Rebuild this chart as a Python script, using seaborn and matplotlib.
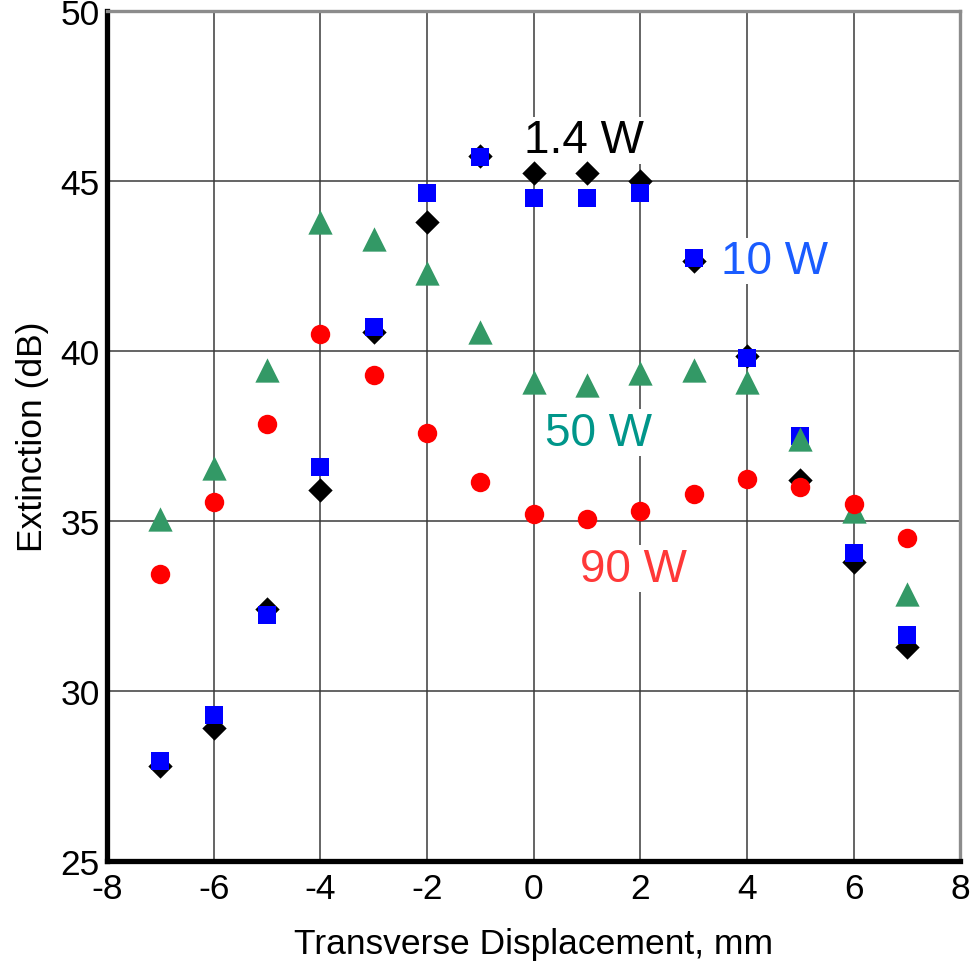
import matplotlib
matplotlib.use("Agg")
import matplotlib.pyplot as plt
import seaborn as sns
import pandas as pd

# Transverse displacement positions (mm)
displacement = [-7, -6, -5, -4, -3, -2, -1, 0, 1, 2, 3, 4, 5, 6, 7]

# Extinction (dB) at each laser power
ext_1p4w = [27.8, 28.9, 32.4, 35.9, 40.55, 43.8, 45.75, 45.25, 45.25, 45.0, 42.65, 39.85, 36.2, 33.8, 31.3]
ext_10w = [27.95, 29.3, 32.25, 36.6, 40.7, 44.65, 45.7, 44.5, 44.5, 44.65, 42.75, 39.8, 37.5, 34.05, 31.65]
ext_50w = [35.05, 36.55, 39.45, 43.8, 43.3, 42.3, 40.55, 39.1, 39.0, 39.35, 39.45, 39.1, 37.4, 35.3, 32.85]
ext_90w = [33.45, 35.55, 37.85, 40.5, 39.3, 37.6, 36.15, 35.2, 35.05, 35.3, 35.8, 36.25, 36.0, 35.5, 34.5]

series_labels = ["1.4 W", "10 W", "50 W", "90 W"]

sns.set_theme(style="white")
plt.rcParams["font.family"] = ["Liberation Sans", "DejaVu Sans"]

fig = plt.figure(figsize=(9.72, 9.70), dpi=100)
ax = fig.add_axes([0.110, 0.1113, 0.878, 0.8763])

# marker, colour and marker scale (points) per power level
series = [
    (ext_1p4w, "D", "black", 12.4),
    (ext_10w, "s", "#0000ff", 13.4),
    (ext_50w, "^", "#339966", 17.5),
    (ext_90w, "o", "#ff0000", 14.0),
]
for (vals, marker, color, ms), label in zip(series, series_labels):
    df = pd.DataFrame({"x": displacement, "y": vals})
    sns.scatterplot(data=df, x="x", y="y", marker=marker, color=color,
                    s=ms ** 2, linewidth=0, ax=ax, zorder=3, legend=False)

ax.set_xlim(-8, 8)
ax.set_ylim(25, 50)
ax.set_xticks(range(-8, 9, 2))
ax.set_yticks(range(25, 51, 5))
ax.set_xticklabels([str(v) for v in range(-8, 9, 2)])
ax.set_yticklabels([str(v) for v in range(25, 51, 5)])

ax.grid(True, color="#3a3a3a", linewidth=1.1)
ax.set_axisbelow(True)

for side in ("top", "right"):
    ax.spines[side].set_color("#8c8c8c")
    ax.spines[side].set_linewidth(2.4)
for side in ("left", "bottom"):
    ax.spines[side].set_color("black")
    ax.spines[side].set_linewidth(3.8)

ax.tick_params(axis="both", which="major", labelsize=25.5, colors="black",
               labelcolor="black", length=4, width=3, direction="out", pad=4)
ax.tick_params(axis="y", pad=1)
ax.set_xlabel("Transverse Displacement, mm", fontsize=25.5, labelpad=16,
              color="black")
ax.set_ylabel("Extinction (dB)", fontsize=25.5, labelpad=8, color="black")

# Power labels beside each group of points
label_pos = [(0.95, 46.2), (4.52, 42.65), (1.22, 37.6), (1.88, 33.6)]
label_colors = ["black", "#1a5cff", "#00968a", "#ff3838"]
for text, (lx, ly), col in zip(series_labels, label_pos, label_colors):
    ax.text(lx, ly, text, fontsize=33, color=col, ha="center", va="center",
            zorder=2, bbox=dict(facecolor="white", edgecolor="none", pad=1))

fig.savefig("out.png", dpi=100)
